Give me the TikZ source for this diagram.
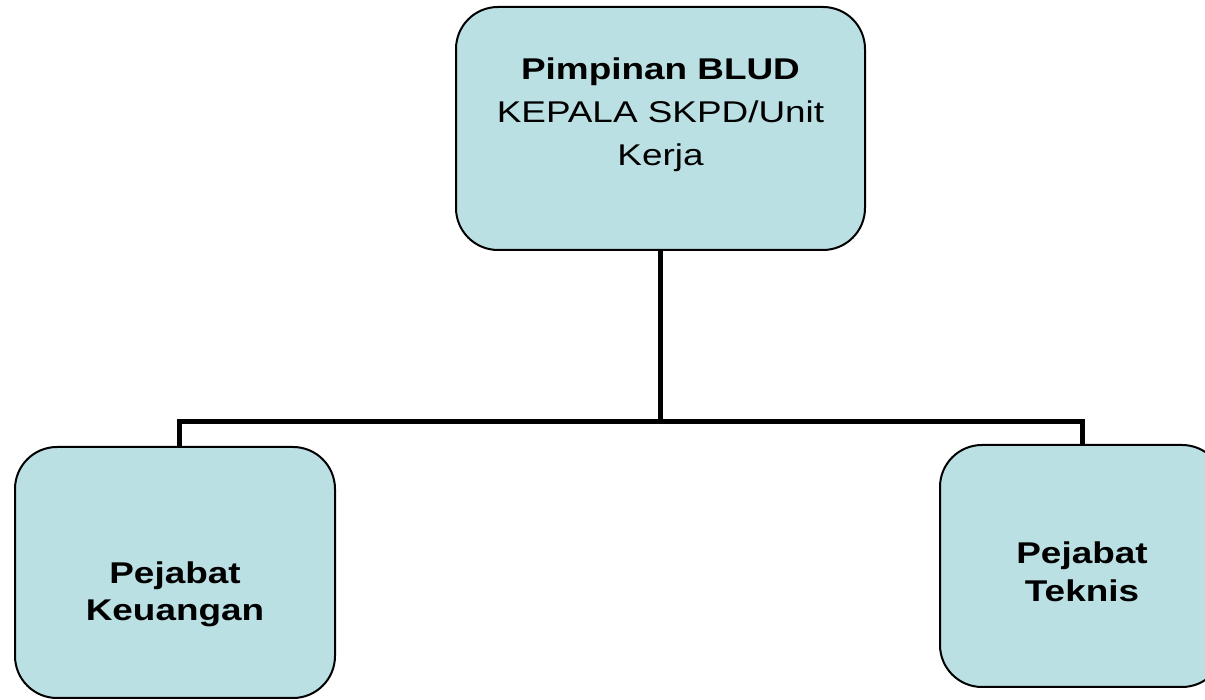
\documentclass[tikz,border=0pt]{standalone}
\usepackage{fontspec}
\setmainfont{Liberation Sans}
\usetikzlibrary{positioning}
\definecolor{boxfill}{RGB}{187,224,227}

\tikzset{
  unitbox/.style={draw=black, line width=2pt, fill=boxfill, rounded corners=42pt, inner sep=0pt},
  unittext/.style={align=center, inner sep=0pt, xscale=1.23, font=\fontsize{30}{#1}\selectfont},
  unittext/.default=43,
  link/.style={line width=5pt}
}

\begin{document}
\begin{tikzpicture}[x=1pt,y=1pt]
\useasboundingbox (0,0) rectangle (1205,700);
\clip (0,0) rectangle (1205,700);
% boxes
\node[unitbox, minimum width=409pt, minimum height=243pt] (pimpinan) at (660.5,571.5) {};
\node[unitbox, minimum width=320pt, minimum height=251pt] (keuangan) at (175,127.5) {};
\node[unitbox, minimum width=284pt, minimum height=242pt] (teknis) at (1082,134) {};
% texts
\node[unittext, below=52pt of pimpinan.north] (pimpinan-txt) {\textbf{Pimpinan BLUD}\\KEPALA SKPD/Unit\\Kerja};
\node[unittext=37, below=116pt of keuangan.north] (keuangan-txt) {\textbf{Pejabat}\\\textbf{Keuangan}};
\node[unittext=38, below=98pt of teknis.north] (teknis-txt) {\textbf{Pejabat}\\\textbf{Teknis}};
% links
\path (pimpinan.south) ++(0,-171) coordinate (bar);
\draw[link] (pimpinan.south) -- (bar);
\draw[link] ([xshift=4pt]keuangan.north) |- (bar) -| (teknis.north);
\end{tikzpicture}
\end{document}
